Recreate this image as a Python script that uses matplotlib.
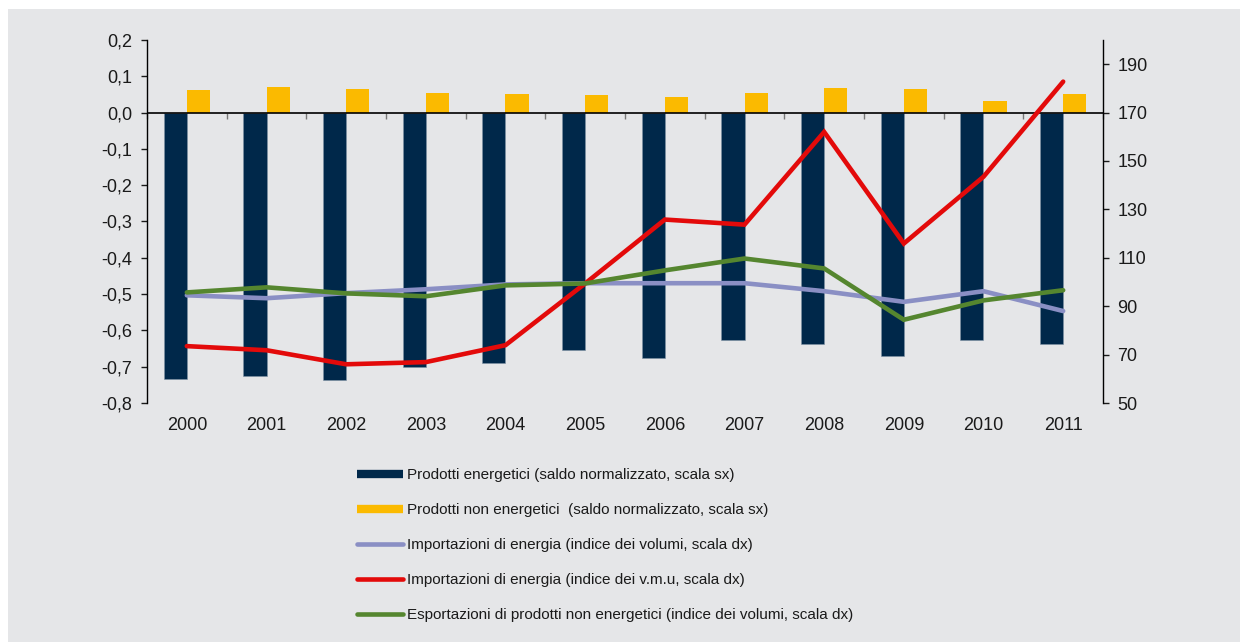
import matplotlib
matplotlib.use("Agg")
import matplotlib.pyplot as plt
import numpy as np
from matplotlib.lines import Line2D
from matplotlib.patches import Rectangle

plt.rcParams['font.family'] = ['Liberation Sans', 'DejaVu Sans']

years = ['2000', '2001', '2002', '2003', '2004', '2005', '2006', '2007', '2008', '2009', '2010', '2011']
energetici = [-0.734, -0.725, -0.736, -0.700, -0.690, -0.654, -0.676, -0.626, -0.637, -0.670, -0.626, -0.637]
non_energetici = [0.062, 0.071, 0.066, 0.055, 0.052, 0.049, 0.044, 0.055, 0.069, 0.066, 0.033, 0.051]
imp_volumi = [94.5, 93.3, 95.4, 97.0, 99.0, 99.5, 99.5, 99.5, 96.2, 91.8, 96.2, 88.0]
imp_vmu = [73.5, 71.8, 66.0, 66.9, 73.9, 99.4, 125.8, 123.7, 162.0, 115.9, 143.5, 182.8]
exp_volumi = [95.7, 97.8, 95.3, 94.1, 98.6, 99.4, 104.8, 109.7, 105.6, 84.4, 92.4, 96.6]

left_ticks = [0.2, 0.1, 0.0, -0.1, -0.2, -0.3, -0.4, -0.5, -0.6, -0.7, -0.8]
right_ticks = [50, 70, 90, 110, 130, 150, 170, 190]

labels = ['Prodotti energetici (saldo normalizzato, scala sx)',
          'Prodotti non energetici  (saldo normalizzato, scala sx)',
          'Importazioni di energia (indice dei volumi, scala dx)',
          'Importazioni di energia (indice dei v.m.u, scala dx)',
          'Esportazioni di prodotti non energetici (indice dei volumi, scala dx)']

c_navy = '#00284a'
c_yellow = '#fbba00'
c_lav = '#8a8fc4'
c_red = '#e30a0a'
c_green = '#55862f'
bg = '#e5e6e8'

fig = plt.figure(figsize=(12.4, 6.42), dpi=100, facecolor='white')
fig.patches.append(Rectangle((8 / 1240, 0), 1, 1 - 9 / 642, transform=fig.transFigure,
                             facecolor=bg, edgecolor='none', zorder=-10))

ax = fig.add_axes([147 / 1240, 1 - 403 / 642, (1103 - 147) / 1240, (403 - 40) / 642])
ax.set_facecolor('none')
x = np.arange(len(years))
w = 0.29
ax.bar(x - w / 2, energetici, width=w, color=c_navy, edgecolor='#7f93a6', linewidth=0.4, zorder=2)
ax.bar(x + w / 2, non_energetici, width=w, color=c_yellow, edgecolor='none', zorder=2)
ax.set_xlim(-0.5, len(years) - 0.5)
ax.set_ylim(-0.8, 0.2)
ax.set_yticks(left_ticks)
ax.set_yticklabels([f"{v:.1f}".replace('.', ',') for v in left_ticks])
ax.set_xticks(x)
ax.set_xticklabels(years)
ax.tick_params(axis='x', length=0, pad=10, labelsize=13, colors='#1a1a1a')
ax.tick_params(axis='y', length=4.5, width=1, direction='out', pad=6, labelsize=13,
               colors='#1a1a1a')
for s in ['top', 'bottom', 'right']:
    ax.spines[s].set_visible(False)
ax.spines['left'].set_color('black')
ax.spines['left'].set_linewidth(1)

sec = ax.secondary_xaxis(0.8)
sec.set_xticks(np.arange(len(years) + 1) - 0.5)
sec.set_xticklabels([])
sec.tick_params(axis='x', length=4, width=1, direction='in', colors='#777777')
sec.spines['bottom'].set_visible(False)
sec.spines['top'].set_visible(False)
ax.axhline(0, color='black', lw=1.2, zorder=4)

ax2 = ax.twinx()
ax2.set_ylim(50, 200)
ax2.set_yticks(right_ticks)
ax2.set_yticklabels([str(v) for v in right_ticks])
ax2.tick_params(axis='y', length=4.5, width=1, direction='out', pad=6, labelsize=13,
                colors='#1a1a1a')
for s in ['top', 'bottom', 'left']:
    ax2.spines[s].set_visible(False)
ax2.spines['right'].set_color('black')
ax2.spines['right'].set_linewidth(1)
lw = 3.3
ax2.plot(x, imp_volumi, color=c_lav, lw=lw, solid_joinstyle='miter', solid_capstyle='round')
ax2.plot(x, imp_vmu, color=c_red, lw=lw, solid_joinstyle='miter', solid_capstyle='round')
ax2.plot(x, exp_volumi, color=c_green, lw=lw, solid_joinstyle='miter', solid_capstyle='round')

handles = [Line2D([], [], color=c_navy, lw=6, solid_capstyle='butt'),
           Line2D([], [], color=c_yellow, lw=6, solid_capstyle='butt'),
           Line2D([], [], color=c_lav, lw=3.3, solid_capstyle='round'),
           Line2D([], [], color=c_red, lw=3.3, solid_capstyle='round'),
           Line2D([], [], color=c_green, lw=3.3, solid_capstyle='round')]
leg = fig.legend(handles, labels, loc='upper left', bbox_to_anchor=(357 / 1240, 1 - 468 / 642),
                 frameon=False, fontsize=11, handlelength=3.0, handletextpad=0.3,
                 labelspacing=1.38, borderpad=0, borderaxespad=0)
for t in leg.get_texts():
    t.set_color('#1a1a1a')

fig.savefig('out.png', dpi=100, facecolor=fig.get_facecolor())
